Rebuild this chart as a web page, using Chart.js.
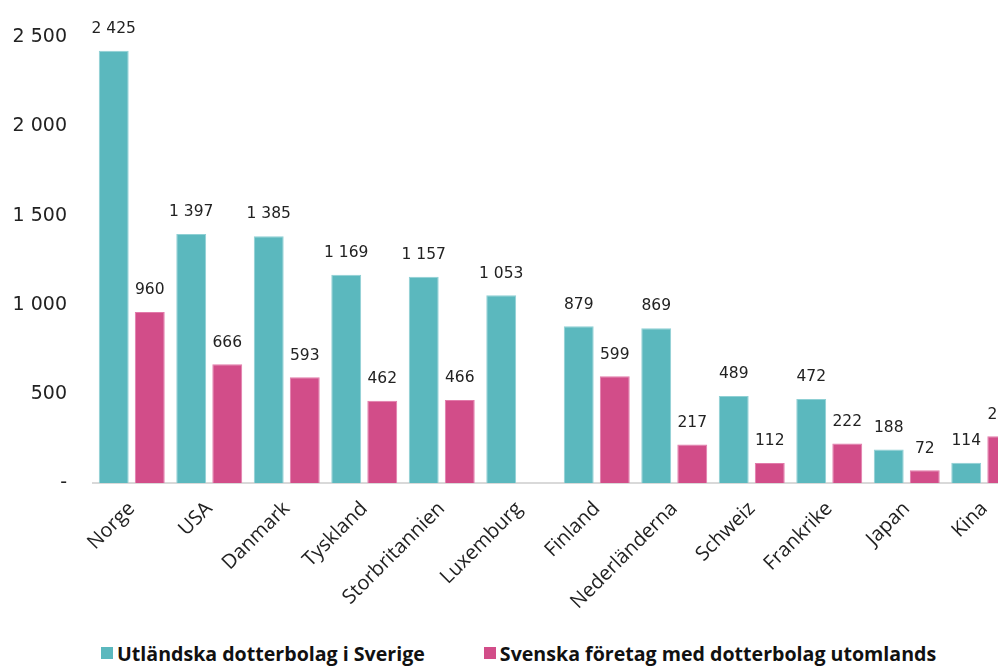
<!DOCTYPE html>
<html>
<head>
<meta charset="utf-8">
<script src="https://cdn.jsdelivr.net/npm/chart.js@4.4.1/dist/chart.umd.min.js"></script>
<style>
  html, body { margin: 0; padding: 0; background: #fff; overflow: hidden; }
  #wrap { width: 1030px; height: 628px; position: relative; }
  #legend { position: absolute; top: 638px; left: 101px; font: bold 19.6px "Open Sans"; color: #111; white-space: nowrap; }
  #legend span.item { display: inline-flex; align-items: center; margin-right: 59px; }
  #legend i { display: inline-block; width: 12px; height: 12px; margin-right: 4px; }
</style>
</head>
<body>
<div id="wrap"><canvas id="myChart"></canvas></div>
<div id="legend"></div>
<script>
const countries = ['Norge', 'USA', 'Danmark', 'Tyskland', 'Storbritannien', 'Luxemburg', 'Finland', 'Nederländerna', 'Schweiz', 'Frankrike', 'Japan', 'Kina'];
const utlandska = [2425, 1397, 1385, 1169, 1157, 1053, 879, 869, 489, 472, 188, 114];
const svenska = [960, 666, 593, 462, 466, null, 599, 217, 112, 222, 72, 262];
const yTicks = [0, 500, 1000, 1500, 2000, 2500];

function fmt(n) {
  if (n === 0) return '-';
  return String(n).replace(/\B(?=(\d{3})+(?!\d))/g, ' ');
}

// draws the numbers above each bar
const valueLabels = {
  id: 'valueLabels',
  afterDatasetsDraw(chart) {
    const ctx = chart.ctx;
    ctx.save();
    ctx.font = '15.5px "DejaVu Sans"';
    ctx.fillStyle = '#222';
    ctx.textAlign = 'center';
    ctx.textBaseline = 'bottom';
    chart.data.datasets.forEach((ds, i) => {
      chart.getDatasetMeta(i).data.forEach((bar, j) => {
        const v = ds.data[j];
        if (v == null) return;
        ctx.fillText(fmt(v), bar.x, bar.y - 14);
      });
    });
    ctx.restore();
  }
};

const ctx = document.getElementById('myChart');
const myChart = new Chart(ctx, {
  type: 'bar',
  data: {
    labels: countries,
    datasets: [{
      label: 'Utländska dotterbolag i Sverige',
      data: utlandska,
      backgroundColor: '#5bb8be',
      borderColor: '#8fd0d4',
      borderWidth: 1,
      categoryPercentage: 0.93,
      barPercentage: 0.83
    }, {
      label: 'Svenska företag med dotterbolag utomlands',
      data: svenska,
      backgroundColor: '#d24d89',
      borderColor: '#e27aaa',
      borderWidth: 1,
      categoryPercentage: 0.93,
      barPercentage: 0.83
    }]
  },
  options: {
    responsive: true,
    maintainAspectRatio: false,
    animation: false,
    layout: { padding: { top: 22, right: 7, left: 12, bottom: 0 } },
    plugins: {
      tooltip: { enabled: false },
      legend: { display: false }
    },
    scales: {
      x: {
        grid: { display: false, drawTicks: false },
        border: { color: '#d9d9d9', width: 2 },
        ticks: {
          minRotation: 45,
          maxRotation: 45,
          padding: 14,
          color: '#222',
          font: { family: 'Open Sans', size: 20 }
        }
      },
      y: {
        min: 0,
        max: 2500,
        grid: { display: false, drawTicks: false },
        border: { display: false },
        afterBuildTicks(scale) { scale.ticks = yTicks.map(v => ({ value: v })); },
        afterFit(scale) { scale.width = 81; },
        ticks: {
          padding: 26,
          color: '#222',
          font: { family: 'DejaVu Sans', size: 19 },
          callback: v => fmt(v)
        }
      }
    }
  },
  plugins: [valueLabels]
});

// legend built from the chart's datasets
const legendEl = document.getElementById('legend');
myChart.data.datasets.forEach(ds => {
  const item = document.createElement('span');
  item.className = 'item';
  item.innerHTML = `<i style="background:${ds.backgroundColor}"></i>${ds.label}`;
  legendEl.appendChild(item);
});
</script>
</body>
</html>
